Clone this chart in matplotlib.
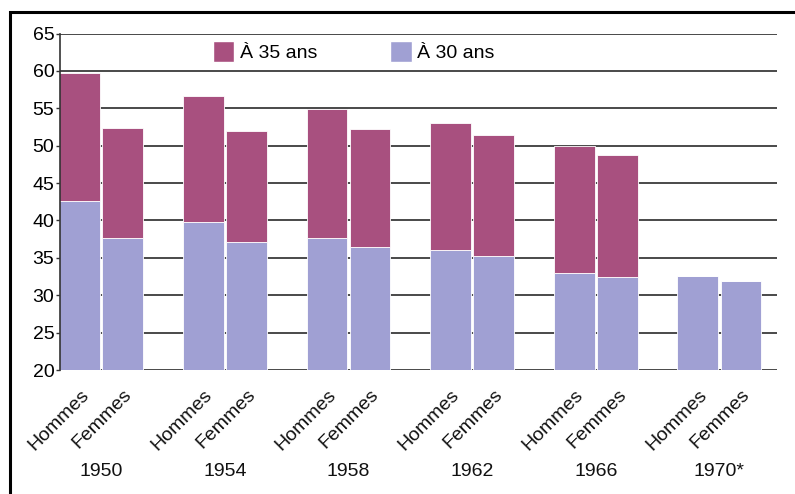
import matplotlib
matplotlib.use("Agg")
import matplotlib.pyplot as plt
from matplotlib import font_manager
from matplotlib.patches import Rectangle
import numpy as np

# Data: average expectations by birth cohort
years = ["1950", "1954", "1958", "1962", "1966", "1970*"]
sexes = ["Hommes", "Femmes"]
a30_hommes = [42.6, 39.8, 37.7, 36.0, 33.0, 32.6]
a30_femmes = [37.6, 37.1, 36.4, 35.3, 32.5, 31.9]
a35_hommes = [59.7, 56.7, 54.9, 53.0, 50.0, np.nan]
a35_femmes = [52.4, 52.0, 52.2, 51.4, 48.7, np.nan]
series_labels = ["À 35 ans", "À 30 ans"]
yticks = [20, 25, 30, 35, 40, 45, 50, 55, 60, 65]

col35 = "#A8507F"
col30 = "#A0A0D3"

# Pick a narrow sans if available
names = {f.name for f in font_manager.fontManager.ttflist}
if "Liberation Sans Narrow" in names:
    fam, fs = "Liberation Sans Narrow", 15.5
elif "Arial Narrow" in names:
    fam, fs = "Arial Narrow", 15.5
else:
    fam, fs = "Liberation Sans", 14
plt.rcParams["font.family"] = [fam, "DejaVu Sans"]

W, H = 795, 494
fig = plt.figure(figsize=(W / 100, H / 100), dpi=100)
ax = fig.add_axes([60 / W, 1 - 370 / H, (777 - 60) / W, (370 - 33.5) / H])

pitch = 1.0
off = 0.348
bw = 0.33
xg = np.arange(len(years)) * pitch
xh = xg
xf = xg + off

a30h = np.array(a30_hommes)
a30f = np.array(a30_femmes)
a35h = np.array(a35_hommes)
a35f = np.array(a35_femmes)

base = 20
ax.bar(xh, a30h - base, bw, bottom=base, color=col30, edgecolor="white", linewidth=0.6, zorder=3)
ax.bar(xf, a30f - base, bw, bottom=base, color=col30, edgecolor="white", linewidth=0.6, zorder=3)
ax.bar(xh, np.nan_to_num(a35h - a30h), bw, bottom=a30h, color=col35, edgecolor="white", linewidth=0.6, zorder=3)
ax.bar(xf, np.nan_to_num(a35f - a30f), bw, bottom=a30f, color=col35, edgecolor="white", linewidth=0.6, zorder=3)

ax.set_ylim(20, 65)
ax.set_xlim(-0.16, 5.64)
ax.set_yticks(yticks)
ax.set_yticklabels([str(t) for t in yticks], fontsize=fs)
ax.tick_params(axis="y", length=3, width=1, color="#333333", pad=1)
ax.set_xticks([])
for y in yticks:
    ax.axhline(y, color="#3a3a3a", linewidth=1.3, zorder=1)
for s in ["top", "right", "bottom"]:
    ax.spines[s].set_visible(False)
ax.spines["left"].set_color("#333333")
ax.spines["left"].set_linewidth(1.2)
ax.spines["left"].set_zorder(4)

# Rotated sex labels under each bar
for xs, lab in ((xh, sexes[0]), (xf, sexes[1])):
    for x in xs:
        ax.annotate(lab, xy=(x, 0), xycoords=("data", "axes fraction"),
                    xytext=(4.5, -16), textcoords="offset points",
                    rotation=45, rotation_mode="anchor", ha="right", va="center",
                    fontsize=fs, color="#111111")

# Cohort labels
for x, yr in zip(xg + off / 2, years):
    ax.annotate(yr, xy=(x, 0), xycoords=("data", "axes fraction"),
                xytext=(0, -73), textcoords="offset points",
                ha="center", va="center", fontsize=fs, color="#111111")

# Legend without frame
h35 = Rectangle((0, 0), 1, 1, facecolor=col35, edgecolor="white")
h30 = Rectangle((0, 0), 1, 1, facecolor=col30, edgecolor="white")
leg = ax.legend([h35, h30], series_labels, loc="upper left",
                bbox_to_anchor=(139 / 717, 1.0 + 6 / 336), ncol=2, frameon=False,
                fontsize=fs, handlelength=1.1, handleheight=1.3,
                handletextpad=0.3, columnspacing=3.75, borderaxespad=0.3)

# Outer frame
fig.patches.append(Rectangle((10 / W, -0.1), 1.2, 1 - 12 / H + 0.1,
                             transform=fig.transFigure, fill=False,
                             edgecolor="black", linewidth=2.2))

fig.savefig("out.png", dpi=100)
